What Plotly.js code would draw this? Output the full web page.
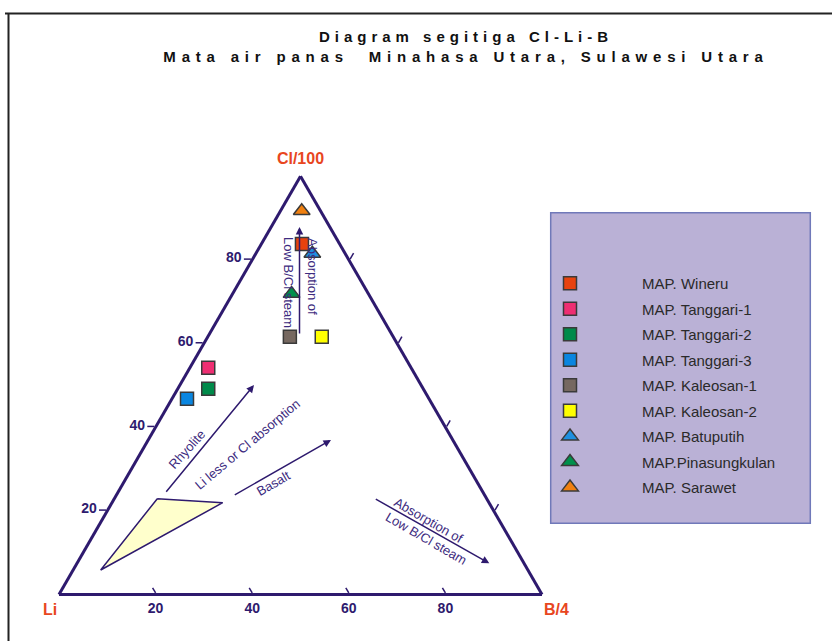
<!DOCTYPE html>
<html>
<head>
<meta charset="utf-8">
<script src="https://cdn.plot.ly/plotly-3.0.1.min.js"></script>
<style>
  html, body { margin: 0; padding: 0; background: #ffffff; }
  #chart { width: 832px; height: 641px; }
</style>
</head>
<body>
<div id="chart"></div>
<script>
// ---------------- data ----------------
const sampleNames = ['MAP. Wineru', 'MAP. Tanggari-1', 'MAP. Tanggari-2', 'MAP. Tanggari-3',
  'MAP. Kaleosan-1', 'MAP. Kaleosan-2', 'MAP. Batuputih', 'MAP.Pinasungkulan', 'MAP. Sarawet'];
const clValues = [83.8, 54.2, 49.2, 46.8, 61.6, 61.6, 81.5, 71.9, 91.7];
const liValues = [7.8, 42.0, 44.5, 50.1, 21.4, 14.8, 6.8, 15.9, 3.9];
const bValues  = [8.4, 3.8, 6.3, 3.1, 17.0, 23.6, 11.7, 12.2, 4.4];
const markerSymbols = ['square', 'square', 'square', 'square', 'square', 'square',
  'triangle-up', 'triangle-up', 'triangle-up'];
const markerColors = ['#E8420E', '#EE2F72', '#008A4A', '#0A86E0', '#766860', '#FFFF00',
  '#1E8FE0', '#00904C', '#F08010'];

// field polygon (Cl, Li, B)
const fieldCl = [22.9, 21.95, 5.86, 22.9];
const fieldLi = [68.2, 55.13, 88.44, 68.2];
const fieldB  = [8.9, 22.92, 5.7, 8.9];

const tickValues = [20, 40, 60, 80];
const leftTickText = ['20', '40', '60', '80'];
const bottomTickText = ['80', '60', '40', '20'];

// ---------------- style ----------------
const W = 832, H = 641;
const px = x => x / W;
const py = y => 1 - y / H;
const FONT = 'Liberation Sans, Arial, sans-serif';
const PURPLE = '#2E1A6E';
const TEXTPURPLE = '#3D2B80';
const VERTEX = '#E8461E';

const data = [];
data.push({
  type: 'scatterternary', mode: 'lines',
  a: fieldCl, b: fieldLi, c: fieldB,
  fill: 'toself', fillcolor: '#FFFFCC',
  line: { color: PURPLE, width: 1.5 },
  showlegend: false, hoverinfo: 'skip'
});
for (let i = 0; i < sampleNames.length; i++) {
  data.push({
    type: 'scatterternary', mode: 'markers',
    name: sampleNames[i], legendgroup: sampleNames[i],
    a: [clValues[i]], b: [liValues[i]], c: [bValues[i]],
    marker: {
      symbol: markerSymbols[i], color: markerColors[i],
      size: markerSymbols[i] === 'square' ? 13 : 14.5,
      line: { color: '#3A3A3A', width: 1.5 }
    }
  });
}

function axisCommon(extra) {
  return Object.assign({
    tickvals: tickValues,
    ticks: 'outside', ticklen: 7, tickwidth: 1.5, tickcolor: PURPLE,
    tickfont: { family: FONT, size: 14, color: PURPLE, weight: 'bold' },
    showgrid: false, showline: true, linecolor: PURPLE, linewidth: 3, min: 0
  }, extra);
}
const vertexFont = { family: FONT, size: 16, color: VERTEX, weight: 'bold' };

function arrow(tx, ty, hx, hy) {
  return {
    xref: 'paper', yref: 'paper', x: px(hx), y: py(hy),
    axref: 'pixel', ayref: 'pixel', ax: tx - hx, ay: ty - hy,
    text: '', showarrow: true, arrowhead: 2, arrowsize: 1, arrowwidth: 1.5,
    arrowcolor: PURPLE, standoff: 0, startstandoff: 0
  };
}
function label(text, x, y, angle, font) {
  return {
    xref: 'paper', yref: 'paper', x: px(x), y: py(y), text: text,
    xanchor: 'center', yanchor: 'middle',
    showarrow: false, textangle: angle, align: 'left',
    font: font || { family: FONT, size: 13, color: TEXTPURPLE }
  };
}

const layout = {
  width: W, height: H,
  margin: { l: 0, r: 0, t: 0, b: 0 },
  paper_bgcolor: '#ffffff',
  showlegend: true,
  title: {
    text: 'Diagram segitiga Cl-Li-B<br>Mata air panas  Minahasa Utara, Sulawesi Utara',
    x: 466 / W, xanchor: 'center', xref: 'paper',
    y: 1 - 42 / H, yanchor: 'top', yref: 'container',
    font: { family: FONT, size: 15, color: '#111111', weight: 'bold' }
  },
  ternary: {
    sum: 100,
    domain: { x: [59 / W, 542 / W], y: [46.5 / H, 464.8 / H] },
    bgcolor: '#ffffff',
    aaxis: axisCommon({ title: { text: 'Cl/100', font: vertexFont }, ticktext: leftTickText }),
    baxis: axisCommon({ title: { text: '' }, ticktext: bottomTickText, ticks: 'inside', ticklen: 6 }),
    caxis: axisCommon({ title: { text: '' }, showticklabels: false })
  },
  legend: {
    x: px(498), y: py(267), xanchor: 'left', yanchor: 'top',
    bgcolor: 'rgba(0,0,0,0)', borderwidth: 0,
    itemwidth: 134, tracegroupgap: 3,
    font: { family: FONT, size: 15, color: '#2A2A2A' }
  },
  shapes: [
    { type: 'rect', xref: 'paper', yref: 'paper', layer: 'below',
      x0: px(550.7), x1: px(810.3), y0: py(523.3), y1: py(212.7),
      fillcolor: '#BAB1D6', line: { color: '#7079B9', width: 1.5 } },
    { type: 'line', xref: 'paper', yref: 'paper', x0: px(5), x1: px(832), y0: py(13.5), y1: py(13.5),
      line: { color: '#222222', width: 2 } },
    { type: 'line', xref: 'paper', yref: 'paper', x0: px(8.5), x1: px(8.5), y0: py(13), y1: py(641),
      line: { color: '#222222', width: 2 } }
  ],
  annotations: [
    arrow(165, 493.3, 254, 385),
    arrow(233.3, 495.7, 331, 440),
    arrow(374.3, 498.3, 489.3, 563.3),
    arrow(299.5, 335, 299.5, 227),
    label('Rhyolite', 187, 450, -48),
    label('Li less or Cl absorption', 247, 444, -40),
    label('Basalt', 273, 483, -30),
    label('Absorption of<br>Low B/Cl steam', 430, 531, 30),
    label('Absorption of', 313, 276, 90),
    label('Low B/Cl steam', 289, 282, 90),
    label('Li', 50, 609, 0, vertexFont),
    label('B/4', 556, 609, 0, vertexFont)
  ]
};

Plotly.newPlot('chart', data, layout, { staticPlot: true }).then(gd => {
  const lines = gd.querySelectorAll('.gtitle tspan.line');
  const spacing = [5.0, 5.8];
  lines.forEach((t, i) => { t.style.letterSpacing = (spacing[i] || 5) + 'px'; });
});
</script>
</body>
</html>
